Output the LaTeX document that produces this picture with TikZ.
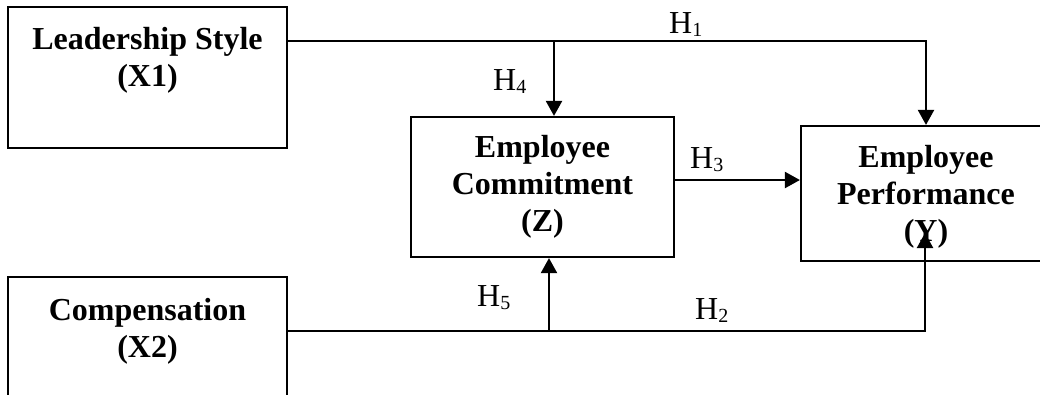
\documentclass[tikz,border=0pt]{standalone}
\usepackage{fontspec}
\setmainfont{Liberation Serif}
\usetikzlibrary{arrows.meta}
\newcommand{\hsub}[1]{H\raisebox{-3pt}{\fontsize{20}{20}\selectfont #1}}
\begin{document}
\begin{tikzpicture}[x=1pt,y=-1pt,
  box/.style={draw, line width=2.2pt, rectangle, inner sep=0pt},
  lbl/.style={font=\fontsize{32}{37}\selectfont\bfseries, align=center, inner sep=0pt, anchor=north},
  hyp/.style={font=\fontsize{32}{37}\selectfont, inner sep=0pt, anchor=base west},
  conn/.style={line width=2.2pt, -{Triangle[length=15pt,width=16pt]}},
]
\useasboundingbox (0,0) rectangle (1040,394);
\clip (0,0) rectangle (1040,394);
% boxes
\node[box, minimum width=279pt, minimum height=141pt] (ls) at (147.5,77.5) {};
\node[box, minimum width=279pt, minimum height=141pt] (cp) at (147.5,347.5) {};
\node[box, minimum width=263pt, minimum height=140pt] (ec) at (542.5,187) {};
\node[box, minimum width=250pt, minimum height=135pt] (ep) at (926,193.5) {};
% box texts
\node[lbl] (lst) at (147.5,27) {Leadership Style\\(X1)};
\node[lbl] (cpt) at (147.5,298) {Compensation\\(X2)};
\node[lbl] (ect) at (542.5,135) {Employee\\Commitment\\(Z)};
\node[lbl] (ept) at (926,145) {Employee\\Performance\\(Y)};
% junction coordinates
\coordinate (j1) at (926,41);
\coordinate (j4) at (554,41);
\coordinate (j3) at (674,180);
\coordinate (j2) at (925,331);
\coordinate (t2) at (925,233);
\coordinate (j5) at (549,331);
% connectors
\draw[conn] (ls.east |- j1) -- (j1) -- (ep.north);
\draw[conn] (j4) -- (j4 |- ec.north);
\draw[conn] (ec.east |- j3) -- (ep.west |- j3);
\draw[conn] (cp.east |- j2) -- (j2) -- (t2);
\draw[conn] (j5) -- (j5 |- ec.south);
% labels
\node[hyp] (h1) at (669,33) {\hsub{1}};
\node[hyp] (h4) at (493,90) {\hsub{4}};
\node[hyp] (h3) at (690,168) {\hsub{3}};
\node[hyp] (h5) at (477,306) {\hsub{5}};
\node[hyp] (h2) at (695,319) {\hsub{2}};
\end{tikzpicture}
\end{document}
